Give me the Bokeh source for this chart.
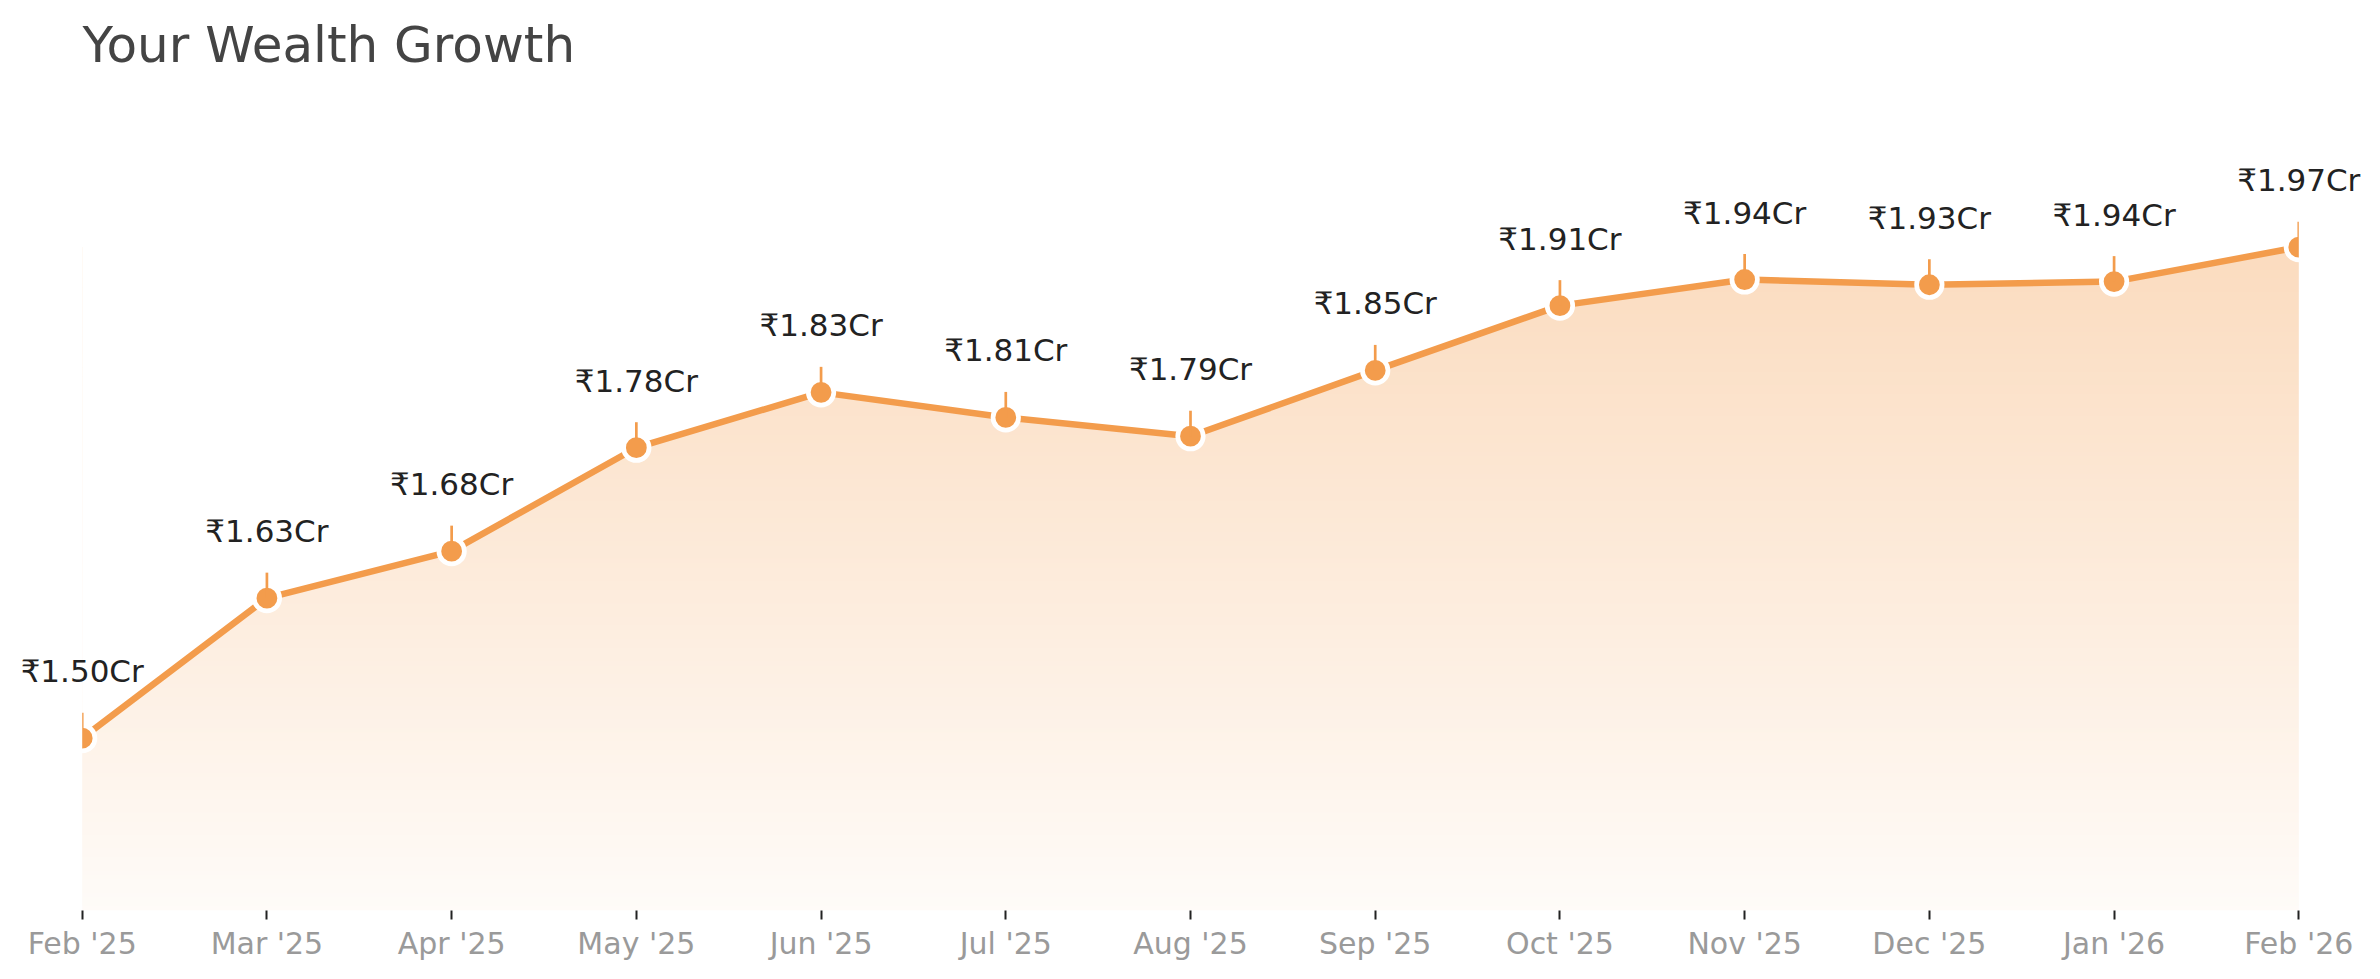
import numpy as np
from bokeh.plotting import figure
from bokeh.models import Range1d, FixedTicker, ColumnDataSource, LabelSet
from bokeh.core.properties import value
from bokeh.embed import file_html
from bokeh.resources import INLINE

# ---- data ----
months = ["Feb '25", "Mar '25", "Apr '25", "May '25", "Jun '25", "Jul '25", "Aug '25",
          "Sep '25", "Oct '25", "Nov '25", "Dec '25", "Jan '26", "Feb '26"]
wealth_cr = [1.500, 1.634, 1.679, 1.778, 1.831, 1.807, 1.789,
             1.852, 1.914, 1.939, 1.934, 1.937, 1.970]
labels = ["₹%.2fCr" % v for v in wealth_cr]

ORANGE = "#F39C4C"
FONT = "DejaVu Sans"

idx = list(range(len(months)))
n_last = len(months) - 1
pad = 0.3665          # extra room left/right of the data so end labels are not clipped
y_start = 1.335
y_end = 2.1276

p = figure(frame_width=2352, frame_height=828, min_border_left=14, min_border_right=14,
           min_border_top=82, min_border_bottom=0,
           x_range=Range1d(-pad, n_last + pad), y_range=Range1d(y_start, y_end),
           y_axis_location=None, toolbar_location=None, output_backend="svg",
           title="Your Wealth Growth")
p.outline_line_color = None
p.xgrid.visible = False
p.ygrid.visible = False
p.background_fill_color = "white"
p.border_fill_color = "white"

p.title.text_font = FONT
p.title.text_font_size = "50px"
p.title.text_font_style = "normal"
p.title.text_color = "#444444"
p.title.align = "left"
p.title.offset = 68
p.title.standoff = 17

# gradient fill (opaque blends of orange with white), then white mask above the curve
def blend(a):
    r, g, b = 0xF3, 0x9C, 0x4C
    return "#%02x%02x%02x" % (round(255 - a * (255 - r)), round(255 - a * (255 - g)), round(255 - a * (255 - b)))

top_val = max(wealth_cr)
levels = np.linspace(y_start, top_val, 150)[:-1]
alphas = 0.04 + (0.36 - 0.04) * (levels - y_start) / (top_val - y_start)
p.quad(left=[0] * len(levels), right=[n_last] * len(levels),
       bottom=levels, top=[top_val] * len(levels),
       fill_color=[blend(a) for a in alphas], line_color=None)
p.varea(x=idx, y1=wealth_cr, y2=[y_end] * len(idx), fill_color="white")

src = ColumnDataSource(dict(x=idx, y=wealth_cr, lab=labels))
p.line("x", "y", source=src, line_color=ORANGE, line_width=6.5, line_join="round")
p.scatter("x", "y", source=src, size=25.5, fill_color=ORANGE, line_color="white", line_width=4.7)
p.ray("x", "y", source=src, length=25.5, length_units="screen", angle=np.pi / 2,
      line_color=ORANGE, line_width=2.7)

# white covers outside the data span (the marks are cut at the first and last month)
p.quad(left=[-pad - 1, n_last], right=[0, n_last + pad + 1], bottom=[y_start - 1] * 2,
       top=[y_end + 1] * 2, fill_color="white", line_color=None)

ls = LabelSet(x="x", y="y", text="lab", source=src, y_offset=56, text_align="center",
              text_baseline="alphabetic", text_font=value(FONT), text_font_size="31px",
              text_color="#222222")
p.add_layout(ls)

ax = p.xaxis[0]
ax.ticker = FixedTicker(ticks=idx)
ax.major_label_overrides = {i: m for i, m in enumerate(months)}
ax.axis_line_color = None
ax.major_tick_line_color = "#222222"
ax.major_tick_line_width = 2
ax.major_tick_in = 0
ax.major_tick_out = 9
ax.minor_tick_line_color = None
ax.major_label_standoff = 6
ax.major_label_text_font = FONT
ax.major_label_text_font_size = "30px"
ax.major_label_text_color = "#9a9a9a"

open("out.html", "w").write(file_html(p, INLINE))
